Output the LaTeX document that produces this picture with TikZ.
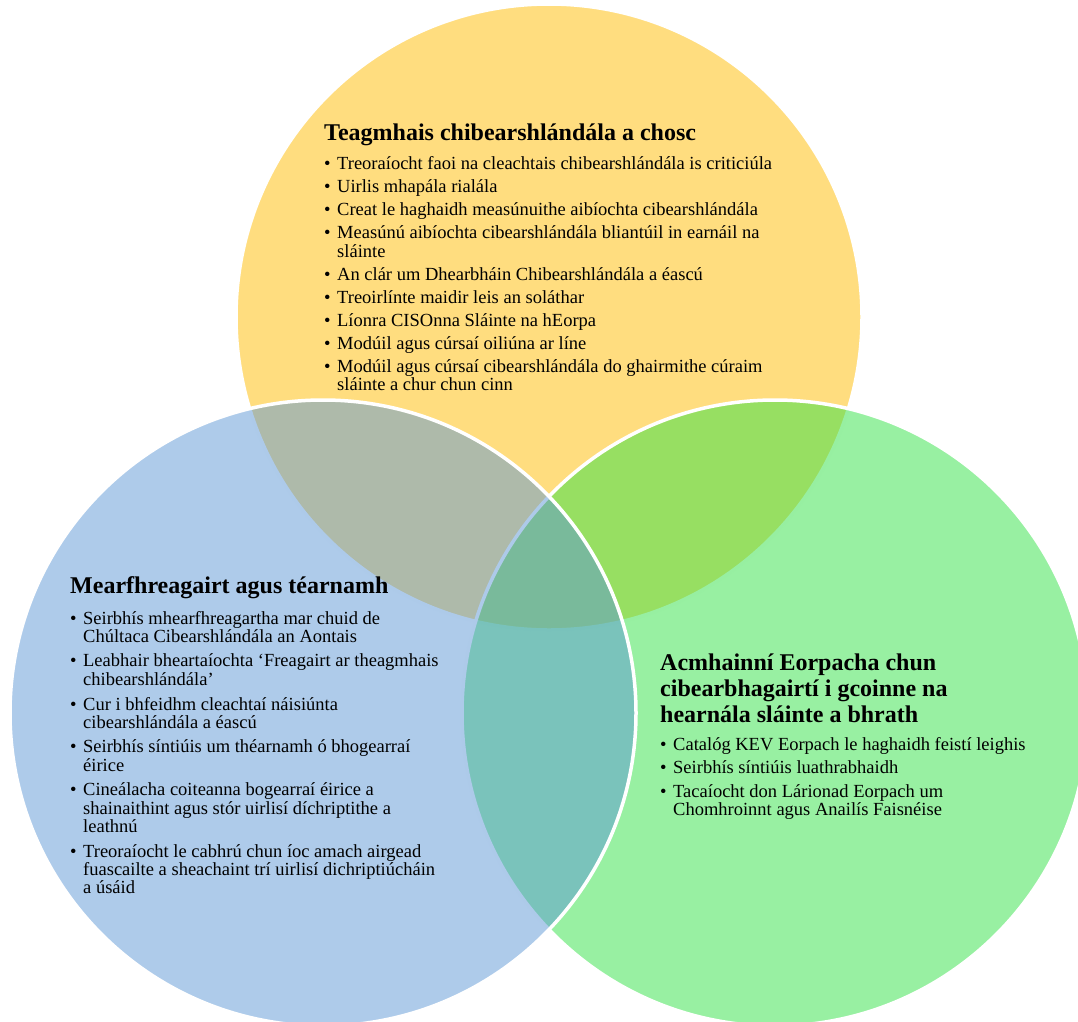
\documentclass[tikz,border=0pt]{standalone}
\usepackage{fontspec}
\setmainfont{Liberation Serif}
\definecolor{buidhe}{RGB}{255,187,0}
\definecolor{glas}{RGB}{49,225,69}
\definecolor{gorm}{RGB}{93,151,213}

\begin{document}
\begin{tikzpicture}[x=1pt, y=-1pt,
    ciorcal/.style={fill=#1, fill opacity=0.5, draw=white, line width=3.5pt},
    ceann/.style={anchor=base west, inner sep=0pt, font=\fontsize{24}{26}\selectfont\bfseries},
    liosta/.style={anchor=base west, inner sep=0pt, font=\fontsize{18.5}{18}\selectfont}]
    \useasboundingbox (0,0) rectangle (1078,1021);
    \clip (0,0) rectangle (1078,1021);
    % Na ciorcail
    \draw[ciorcal=buidhe] (549,317) circle (313);
    \draw[ciorcal=glas] (775,713) circle (313);
    \draw[ciorcal=gorm] (323,713) circle (313);
    % Ciorcal uachtair
    \node[ceann] (ceannUachtar) at (324,140) {Teagmhais chibearshlándála a chosc};
    \node[liosta] (liostaUachtar) at (324,169.8) {\begin{tabular}[t]{@{}p{13pt}@{}l@{}}
        \textbullet & Treoraíocht faoi na cleachtais chibearshlándála is criticiúla \\[4.8pt]
        \textbullet & Uirlis mhapála rialála \\[4.8pt]
        \textbullet & Creat le haghaidh measúnuithe aibíochta cibearshlándála \\[4.8pt]
        \textbullet & Measúnú aibíochta cibearshlándála bliantúil in earnáil na \\
                    & sláinte \\[4.8pt]
        \textbullet & An clár um Dhearbháin Chibearshlándála a éascú \\[4.8pt]
        \textbullet & Treoirlínte maidir leis an soláthar \\[4.8pt]
        \textbullet & Líonra CISOnna Sláinte na hEorpa \\[4.8pt]
        \textbullet & Modúil agus cúrsaí oiliúna ar líne \\[4.8pt]
        \textbullet & Modúil agus cúrsaí cibearshlándála do ghairmithe cúraim \\
                    & sláinte a chur chun cinn
    \end{tabular}};
    % Ciorcal ar chlé
    \node[ceann] (ceannChle) at (70,593.3) {Mearfhreagairt agus téarnamh};
    \node[liosta] (liostaChle) at (70,624) {\begin{tabular}[t]{@{}p{13pt}@{}l@{}}
        \textbullet & Seirbhís mhearfhreagartha mar chuid de \\
                    & Chúltaca Cibearshlándála an Aontais \\[6.4pt]
        \textbullet & Leabhair bheartaíochta ‘Freagairt ar theagmhais \\
                    & chibearshlándála’ \\[6.4pt]
        \textbullet & Cur i bhfeidhm cleachtaí náisiúnta \\
                    & cibearshlándála a éascú \\[6.4pt]
        \textbullet & Seirbhís síntiúis um théarnamh ó bhogearraí \\
                    & éirice \\[6.4pt]
        \textbullet & Cineálacha coiteanna bogearraí éirice a \\
                    & shainaithint agus stór uirlisí díchriptithe a \\
                    & leathnú \\[6.4pt]
        \textbullet & Treoraíocht le cabhrú chun íoc amach airgead \\
                    & fuascailte a sheachaint trí uirlisí dichriptiúcháin \\
                    & a úsáid
    \end{tabular}};
    % Ciorcal ar dheis
    \node[ceann] (ceannDeis) at (660,670) {\begin{tabular}[t]{@{}l@{}}
        Acmhainní Eorpacha chun \\
        cibearbhagairtí i gcoinne na \\
        hearnála sláinte a bhrath
    \end{tabular}};
    \node[liosta] (liostaDeis) at (660,750.3) {\begin{tabular}[t]{@{}p{13pt}@{}l@{}}
        \textbullet & Catalóg KEV Eorpach le haghaidh feistí leighis \\[5.4pt]
        \textbullet & Seirbhís síntiúis luathrabhaidh \\[5.4pt]
        \textbullet & Tacaíocht don Lárionad Eorpach um \\
                    & Chomhroinnt agus Anailís Faisnéise
    \end{tabular}};
\end{tikzpicture}
\end{document}
